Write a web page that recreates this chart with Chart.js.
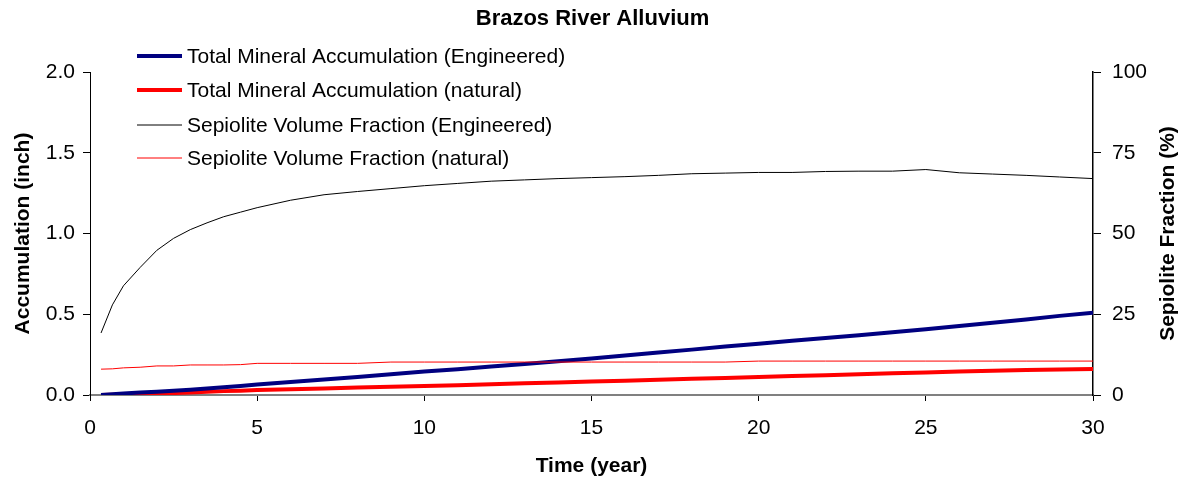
<!DOCTYPE html>
<html>
<head>
<meta charset="utf-8">
<title>Brazos River Alluvium</title>
<script src="https://cdn.jsdelivr.net/npm/chart.js@4.4.1/dist/chart.umd.min.js"></script>
<style>
  html, body { margin: 0; padding: 0; background: #fff; }
  canvas { display: block; }
</style>
</head>
<body>
<canvas id="chart" width="1185" height="485"></canvas>
<script>
// time steps (years)
const years = [0.33, 0.67, 1, 1.5, 2, 2.5, 3, 3.5, 4, 4.5, 5,
  6, 7, 8, 9, 10, 11, 12, 13, 14, 15, 16, 17, 18, 19, 20,
  21, 22, 23, 24, 25, 26, 27, 28, 29, 30];

// total mineral accumulation, inch
const accumEngineered = [0.0, 0.005, 0.01, 0.015, 0.02, 0.026, 0.033, 0.04, 0.048, 0.056, 0.065,
  0.08, 0.096, 0.112, 0.128, 0.145, 0.16, 0.176, 0.192, 0.209, 0.226,
  0.245, 0.263, 0.281, 0.3, 0.318, 0.336, 0.353, 0.37, 0.388, 0.407,
  0.427, 0.448, 0.468, 0.49, 0.51];
const accumNatural = [0.0, 0.002, 0.004, 0.007, 0.01, 0.012, 0.015, 0.02, 0.024, 0.027, 0.031,
  0.036, 0.041, 0.046, 0.051, 0.056, 0.061, 0.066, 0.072, 0.077, 0.083,
  0.089, 0.095, 0.1, 0.106, 0.112, 0.117, 0.122, 0.128, 0.134, 0.14,
  0.145, 0.15, 0.155, 0.158, 0.161];

// sepiolite volume fraction, %
const sepEngineered = [19.2, 27.9, 33.8, 39.5, 44.8, 48.5, 51.2, 53.3, 55.2, 56.6, 58.0,
  60.3, 62.0, 63.0, 63.9, 64.8, 65.5, 66.2, 66.6, 67.0, 67.3,
  67.6, 68.0, 68.5, 68.7, 68.9, 68.9, 69.2, 69.3, 69.3, 69.8,
  68.8, 68.4, 68.0, 67.5, 67.0];
const sepNatural = [8.0, 8.1, 8.4, 8.6, 9.0, 9.0, 9.3, 9.3, 9.3, 9.4, 9.8,
  9.8, 9.8, 9.8, 10.2, 10.2, 10.2, 10.2, 10.2, 10.2, 10.2,
  10.2, 10.2, 10.2, 10.2, 10.5, 10.5, 10.5, 10.5, 10.5, 10.5,
  10.5, 10.5, 10.5, 10.5, 10.5];

const xTicks = [0, 5, 10, 15, 20, 25, 30];
const leftTicks = [0, 0.5, 1.0, 1.5, 2.0];
const rightTicks = [0, 25, 50, 75, 100];

const FONT = "'Liberation Sans', Arial, sans-serif";

const pts = (ys) => ys.map((y, i) => ({ x: years[i], y }));

// legend drawn over the plot area, top-left
const overlayLegend = {
  id: 'overlayLegend',
  afterDatasetsDraw(chart) {
    const ctx = chart.ctx;
    const rows = [56, 90, 125, 158];
    ctx.save();
    ctx.font = '21px ' + FONT;
    ctx.textBaseline = 'middle';
    ctx.textAlign = 'left';
    chart.data.datasets.forEach((ds, i) => {
      const y = rows[i];
      ctx.strokeStyle = ds.borderColor;
      ctx.lineWidth = ds.borderWidth;
      ctx.beginPath();
      ctx.moveTo(137, y);
      ctx.lineTo(182, y);
      ctx.stroke();
      ctx.fillStyle = '#000';
      ctx.fillText(ds.label, 187, y + 1);
    });

    // right axis title reads bottom-to-top like the left one
    const area = chart.chartArea;
    ctx.translate(1168, (area.top + area.bottom) / 2);
    ctx.rotate(-Math.PI / 2);
    ctx.font = 'bold 21px ' + FONT;
    ctx.textAlign = 'center';
    ctx.fillText('Sepiolite Fraction (%)', 0, 0);
    ctx.restore();
  }
};

new Chart(document.getElementById('chart'), {
  type: 'line',
  data: {
    datasets: [
      {
        label: 'Total Mineral Accumulation (Engineered)',
        data: pts(accumEngineered),
        borderColor: '#000080',
        borderWidth: 4,
        yAxisID: 'y',
        order: 2
      },
      {
        label: 'Total Mineral Accumulation (natural)',
        data: pts(accumNatural),
        borderColor: '#ff0000',
        borderWidth: 4,
        yAxisID: 'y',
        order: 3
      },
      {
        label: 'Sepiolite Volume Fraction (Engineered)',
        data: pts(sepEngineered),
        borderColor: '#000000',
        borderWidth: 1,
        yAxisID: 'y1',
        order: 1
      },
      {
        label: 'Sepiolite Volume Fraction (natural)',
        data: pts(sepNatural),
        borderColor: '#ff0000',
        borderWidth: 1,
        yAxisID: 'y1',
        order: 0
      }
    ]
  },
  options: {
    responsive: false,
    animation: false,
    layout: { padding: 0 },
    elements: {
      point: { radius: 0 },
      line: { tension: 0, fill: false }
    },
    plugins: {
      legend: { display: false },
      tooltip: { enabled: false },
      title: {
        display: true,
        text: 'Brazos River Alluvium',
        color: '#000',
        font: { family: FONT, size: 22, weight: 'bold' },
        padding: { top: 6, bottom: 39.6 }
      }
    },
    scales: {
      x: {
        type: 'linear',
        min: 0,
        max: 30,
        afterBuildTicks: (s) => { s.ticks = xTicks.map(v => ({ value: v })); },
        afterFit: (s) => { s.height = 90; },
        border: { display: true, color: '#808080', width: 2 },
        grid: { drawOnChartArea: false, drawTicks: true, tickLength: 6, color: '#000' },
        ticks: { color: '#000', padding: 15, maxRotation: 0, font: { family: FONT, size: 21 } },
        title: {
          display: true,
          text: 'Time (year)',
          color: '#000',
          font: { family: FONT, size: 21, weight: 'bold' },
          // bottom padding sets the gap below the title on a bottom axis
          padding: { top: 4, bottom: 6 }
        }
      },
      y: {
        position: 'left',
        min: 0,
        max: 2,
        afterBuildTicks: (s) => { s.ticks = leftTicks.map(v => ({ value: v })); },
        afterFit: (s) => { s.width = 90; },
        border: { display: true, color: '#000', width: 1 },
        grid: { drawOnChartArea: false, drawTicks: true, tickLength: 7, color: '#000' },
        ticks: {
          color: '#000',
          padding: 8,
          font: { family: FONT, size: 21 },
          callback: (v) => v.toFixed(1)
        },
        title: {
          display: true,
          text: 'Accumulation (inch)',
          color: '#000',
          font: { family: FONT, size: 21, weight: 'bold' },
          padding: { top: 11, bottom: 0 }
        }
      },
      y1: {
        position: 'right',
        min: 0,
        max: 100,
        afterBuildTicks: (s) => { s.ticks = rightTicks.map(v => ({ value: v })); },
        afterFit: (s) => { s.width = 92; },
        border: { display: true, color: '#000', width: 1.5 },
        grid: { drawOnChartArea: false, drawTicks: true, tickLength: 8, color: '#000' },
        ticks: { color: '#000', padding: 11, font: { family: FONT, size: 21 } },
        title: { display: false }
      }
    }
  },
  plugins: [overlayLegend]
});
</script>
</body>
</html>
